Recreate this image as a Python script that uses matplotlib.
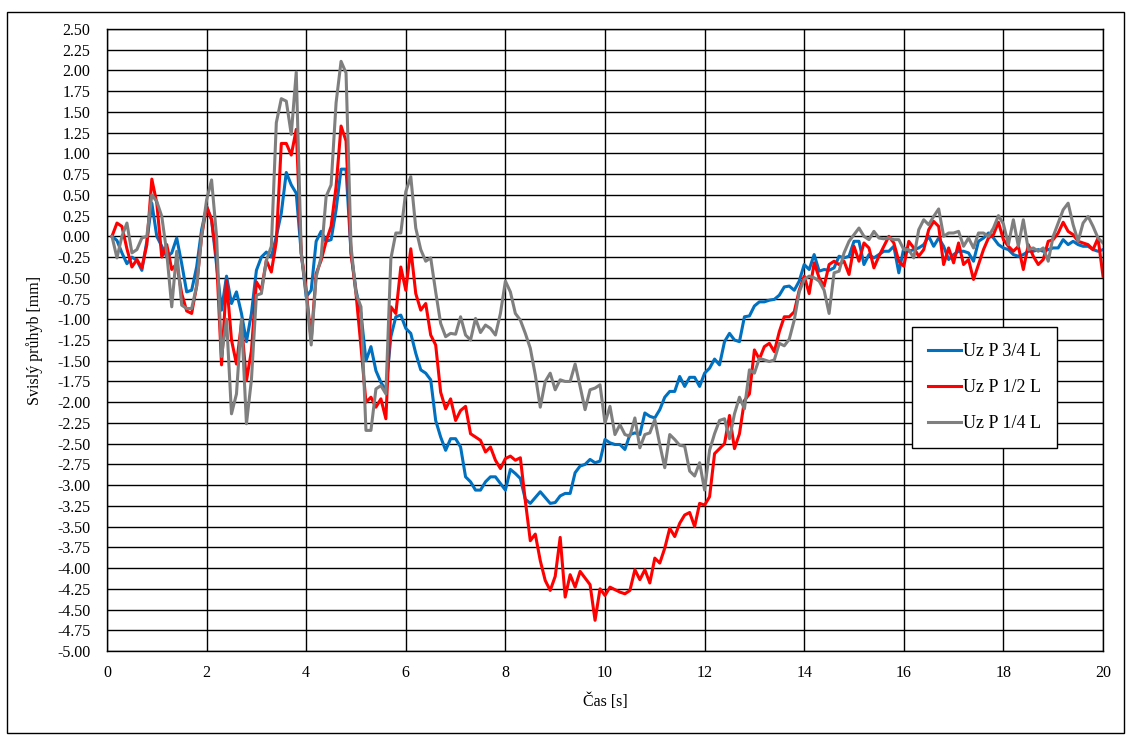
import matplotlib
matplotlib.use('Agg')
import matplotlib.pyplot as plt
import numpy as np
from matplotlib.patches import Rectangle

plt.rcParams['font.family'] = ['Liberation Serif', 'DejaVu Serif']

# sampling every 0.1 s, 0.1 .. 20.0 s
t = np.round(np.arange(1, 201) * 0.1, 1)

uz_34 = [
    0.00, -0.05, -0.20, -0.33, -0.25, -0.29, -0.41, -0.06, 0.40, 0.00,
    -0.12, -0.25, -0.20, -0.02, -0.33, -0.67, -0.65, -0.37, 0.08, 0.36,
    0.20, -0.35, -0.89, -0.48, -0.81, -0.67, -0.93, -1.27, -0.93, -0.41,
    -0.25, -0.19, -0.25, 0.00, 0.28, 0.77, 0.62, 0.52, -0.20, -0.73,
    -0.65, -0.06, 0.06, -0.06, -0.04, 0.32, 0.81, 0.81, -0.20, -0.65,
    -0.93, -1.50, -1.33, -1.62, -1.76, -1.86, -1.21, -0.97, -0.95, -1.11,
    -1.17, -1.41, -1.61, -1.65, -1.73, -2.22, -2.42, -2.58, -2.44, -2.44,
    -2.54, -2.90, -2.96, -3.06, -3.06, -2.96, -2.90, -2.90, -2.98, -3.06,
    -2.81, -2.86, -2.92, -3.17, -3.22, -3.15, -3.08, -3.15, -3.22, -3.21,
    -3.13, -3.10, -3.10, -2.85, -2.77, -2.75, -2.69, -2.73, -2.71, -2.45,
    -2.49, -2.51, -2.51, -2.57, -2.39, -2.37, -2.39, -2.13, -2.17, -2.19,
    -2.09, -1.94, -1.87, -1.87, -1.69, -1.81, -1.70, -1.70, -1.81, -1.65,
    -1.59, -1.48, -1.55, -1.27, -1.17, -1.25, -1.27, -0.97, -0.96, -0.84,
    -0.79, -0.79, -0.77, -0.76, -0.71, -0.61, -0.60, -0.65, -0.54, -0.34,
    -0.40, -0.22, -0.42, -0.40, -0.41, -0.38, -0.24, -0.26, -0.24, -0.06,
    -0.06, -0.34, -0.22, -0.26, -0.22, -0.18, -0.18, -0.12, -0.44, -0.14,
    -0.18, -0.16, -0.14, -0.10, 0.00, -0.12, -0.02, -0.12, -0.28, -0.22,
    -0.18, -0.18, -0.20, -0.30, -0.06, -0.02, 0.04, -0.02, -0.10, -0.14,
    -0.16, -0.22, -0.24, -0.22, -0.18, -0.18, -0.16, -0.18, -0.16, -0.14,
    -0.14, -0.04, -0.10, -0.06, -0.10, -0.12, -0.12, -0.16, -0.18, -0.16,
]

uz_12 = [
    0.00, 0.16, 0.12, -0.15, -0.37, -0.28, -0.38, -0.10, 0.69, 0.40,
    -0.25, -0.10, -0.40, -0.33, -0.69, -0.90, -0.93, -0.60, 0.00, 0.36,
    0.20, -0.27, -1.55, -0.53, -1.25, -1.54, -1.05, -1.74, -1.38, -0.55,
    -0.65, -0.29, -0.43, -0.06, 1.12, 1.12, 0.98, 1.29, -0.20, -0.65,
    -1.25, -0.45, -0.29, -0.06, 0.12, 0.60, 1.33, 1.15, -0.20, -0.69,
    -1.33, -2.00, -1.94, -2.06, -1.96, -2.20, -0.85, -0.93, -0.37, -0.65,
    -0.15, -0.69, -0.89, -0.81, -1.19, -1.31, -1.88, -2.08, -1.96, -2.22,
    -2.10, -2.05, -2.38, -2.42, -2.46, -2.60, -2.54, -2.70, -2.80, -2.68,
    -2.65, -2.70, -2.67, -3.19, -3.67, -3.59, -3.91, -4.15, -4.27, -4.10,
    -3.63, -4.35, -4.08, -4.23, -4.04, -4.12, -4.20, -4.63, -4.25, -4.33,
    -4.23, -4.26, -4.29, -4.31, -4.27, -4.02, -4.14, -4.02, -4.18, -3.88,
    -3.94, -3.76, -3.52, -3.62, -3.46, -3.36, -3.33, -3.50, -3.22, -3.24,
    -3.14, -2.62, -2.56, -2.50, -2.16, -2.56, -2.38, -1.98, -1.90, -1.37,
    -1.48, -1.33, -1.29, -1.39, -1.15, -0.97, -0.97, -0.91, -0.65, -0.48,
    -0.69, -0.32, -0.50, -0.60, -0.34, -0.30, -0.34, -0.30, -0.46, -0.12,
    -0.30, -0.08, -0.14, -0.38, -0.24, -0.12, 0.00, -0.08, -0.30, -0.36,
    -0.06, -0.14, -0.24, -0.16, 0.08, 0.18, 0.12, -0.34, -0.14, -0.32,
    -0.08, -0.34, -0.28, -0.52, -0.34, -0.16, -0.02, 0.02, 0.17, -0.04,
    -0.12, -0.18, -0.12, -0.40, -0.10, -0.24, -0.34, -0.28, -0.06, -0.04,
    0.04, 0.17, 0.06, 0.02, -0.06, -0.08, -0.10, -0.16, -0.02, -0.48,
]

uz_14 = [
    0.00, -0.26, 0.00, 0.16, -0.20, -0.16, -0.02, 0.00, 0.50, 0.42,
    0.24, -0.20, -0.85, -0.18, -0.83, -0.87, -0.87, -0.60, 0.00, 0.44,
    0.68, 0.00, -1.45, -1.00, -2.14, -1.90, -1.00, -2.26, -1.73, -0.71,
    -0.69, -0.29, -0.12, 1.37, 1.66, 1.63, 1.23, 1.98, -0.20, -0.69,
    -1.31, -0.49, -0.25, 0.48, 0.62, 1.61, 2.11, 1.97, -0.12, -0.69,
    -0.85, -2.34, -2.34, -1.84, -1.80, -1.90, -0.27, 0.04, 0.04, 0.54,
    0.72, 0.10, -0.16, -0.30, -0.26, -0.67, -1.05, -1.21, -1.17, -1.18,
    -0.97, -1.19, -1.25, -0.99, -1.16, -1.07, -1.11, -1.19, -0.93, -0.54,
    -0.67, -0.93, -1.01, -1.17, -1.35, -1.67, -2.06, -1.75, -1.65, -1.85,
    -1.73, -1.75, -1.75, -1.54, -1.81, -2.09, -1.85, -1.83, -1.79, -2.25,
    -2.05, -2.39, -2.27, -2.39, -2.41, -2.19, -2.55, -2.39, -2.37, -2.21,
    -2.51, -2.79, -2.39, -2.45, -2.52, -2.53, -2.83, -2.89, -2.73, -3.06,
    -2.58, -2.38, -2.22, -2.20, -2.44, -2.14, -1.94, -2.08, -1.61, -1.65,
    -1.47, -1.49, -1.51, -1.49, -1.29, -1.32, -1.24, -1.01, -0.67, -0.52,
    -0.48, -0.50, -0.54, -0.65, -0.93, -0.44, -0.42, -0.20, -0.06, 0.02,
    0.10, 0.00, -0.04, 0.06, -0.02, -0.03, -0.02, -0.04, -0.04, -0.16,
    -0.16, -0.26, 0.08, 0.20, 0.14, 0.24, 0.33, 0.00, 0.04, 0.04,
    0.06, -0.12, -0.02, -0.14, 0.04, 0.04, 0.00, 0.10, 0.25, 0.15,
    -0.10, 0.20, -0.12, 0.20, -0.16, -0.14, -0.18, -0.14, -0.30, 0.00,
    0.16, 0.32, 0.40, 0.14, -0.06, 0.16, 0.24, 0.12, -0.02, -0.08,
]

series = [
    ('Uz P 3/4 L', uz_34, '#0070C0'),
    ('Uz P 1/2 L', uz_12, '#FF0000'),
    ('Uz P 1/4 L', uz_14, '#7F7F7F'),
]

fig = plt.figure(figsize=(11.31, 7.36), dpi=100)
ax = fig.add_axes([107 / 1131, 1 - 651 / 736, 996 / 1131, 622 / 736])

for label, vals, color in series:
    ax.plot(t, vals, color=color, linewidth=2.2, label=label)

ax.set_xlim(0, 20)
ax.set_ylim(-5, 2.5)
ax.set_xticks(np.arange(0, 21, 2))
ax.set_yticks(np.arange(-5, 2.51, 0.25))
ax.set_yticklabels([f'{v:.2f}' for v in np.arange(-5, 2.51, 0.25)])
ax.grid(True, color='black', linewidth=1.0)
ax.set_axisbelow(True)
for sp in ax.spines.values():
    sp.set_color('black')
    sp.set_linewidth(1.0)
ax.tick_params(axis='both', length=0, labelsize=11.5)
ax.tick_params(axis='y', pad=12)
ax.tick_params(axis='x', pad=10)

ax.set_xlabel('Čas [s]', fontsize=11.5, labelpad=9)
ax.set_ylabel('Svislý průhyb [mm]', fontsize=11.5, labelpad=10)

leg = ax.legend(loc='upper left', bbox_to_anchor=(0.808, 0.521), borderaxespad=0,
                fontsize=13, frameon=True, fancybox=False, edgecolor='black',
                framealpha=1, handlelength=1.8, handletextpad=0.15,
                labelspacing=1.05, borderpad=0.9)
leg.get_frame().set_linewidth(1.0)

# outer chart border
fig.patches.append(Rectangle((7 / 1131, 3 / 736), 1117 / 1131, 721 / 736,
                             transform=fig.transFigure, fill=False,
                             edgecolor='black', linewidth=1.0))

fig.savefig('out.png', dpi=100)
